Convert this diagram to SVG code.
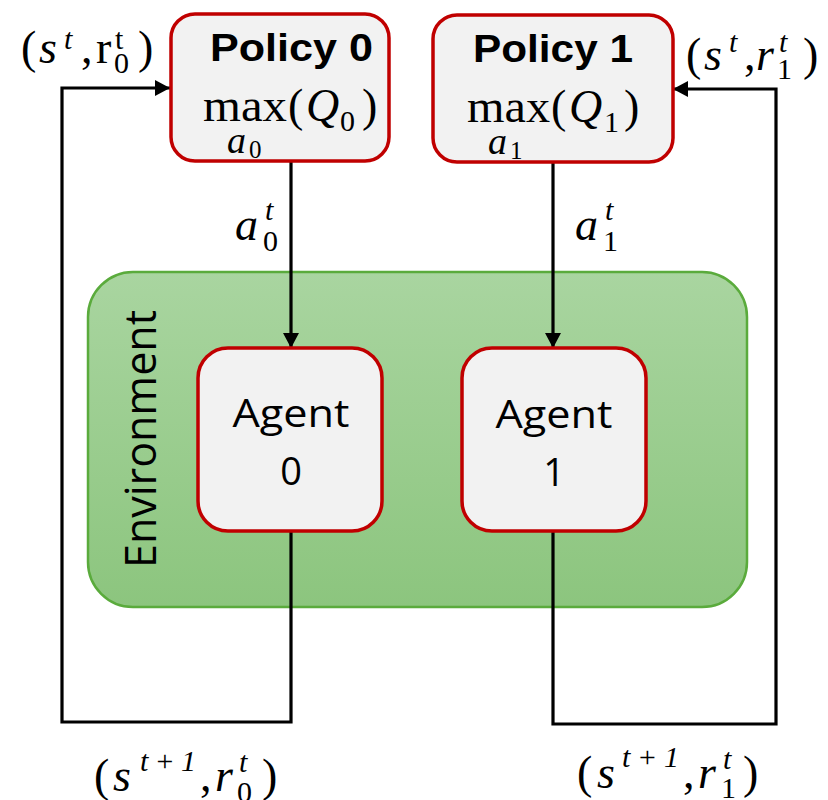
<svg xmlns="http://www.w3.org/2000/svg" width="828" height="800" viewBox="0 0 828 800">
  <defs>
    <linearGradient id="envFill" x1="0" y1="0" x2="0" y2="1">
      <stop offset="0" stop-color="#a9d5a0"/>
      <stop offset="1" stop-color="#8cc57e"/>
    </linearGradient>
    <marker id="arrow" viewBox="0 0 15 16" refX="15" refY="8" markerWidth="15" markerHeight="16" markerUnits="userSpaceOnUse" orient="auto">
      <path d="M0,0 L15,8 L0,16 Z" fill="#000"/>
    </marker>
    <style>
      .box { fill: #f2f2f2; stroke: #c00000; stroke-width: 3.5; }
      .env { fill: url(#envFill); stroke: #5aab3c; stroke-width: 2.5; }
      .wire { fill: none; stroke: #000; stroke-width: 3.2; }
      .title { font-family: "Liberation Sans", Arial, sans-serif; font-weight: bold; font-size: 39px; fill: #000; }
      .label { font-family: "Open Sans", "Liberation Sans", sans-serif; font-size: 38px; fill: #000; }
      .envlabel { font-family: "Open Sans", "Liberation Sans", sans-serif; font-size: 43px; fill: #000; }
      .m { font-family: "Liberation Serif", "Times New Roman", serif; font-size: 46px; fill: #000; }
      .mi { font-family: "Liberation Serif", "Times New Roman", serif; font-style: italic; font-size: 46px; fill: #000; }
      .s { font-family: "Liberation Serif", "Times New Roman", serif; font-size: 30px; fill: #000; }
      .si { font-family: "Liberation Serif", "Times New Roman", serif; font-style: italic; font-size: 30px; fill: #000; }
      .lim { font-family: "Liberation Serif", "Times New Roman", serif; font-style: italic; font-size: 38px; fill: #000; }
      .lims { font-family: "Liberation Serif", "Times New Roman", serif; font-size: 25px; fill: #000; }
    </style>
  </defs>

  <!-- environment container -->
  <g id="environment">
    <rect class="env" x="88" y="272" width="659" height="335" rx="45"/>
    <text class="envlabel" text-anchor="middle" textLength="258" lengthAdjust="spacingAndGlyphs" transform="translate(156,439) rotate(-90)">Environment</text>
  </g>

  <!-- connectors -->
  <g id="connectors">
    <path class="wire" d="M291,161 V348" marker-end="url(#arrow)"/>
    <path class="wire" d="M553,163 V348" marker-end="url(#arrow)"/>
    <path class="wire" d="M291,531 V722 H62 V88 H170" marker-end="url(#arrow)"/>
    <path class="wire" d="M553,531 V724 H776 V89 H673" marker-end="url(#arrow)"/>
  </g>

  <!-- policy nodes -->
  <g id="policy0">
    <rect class="box" x="171" y="14" width="218" height="147" rx="24"/>
    <text class="title" x="210" y="61" textLength="163" lengthAdjust="spacingAndGlyphs">Policy 0</text>
    <text class="m" x="203" y="121" textLength="84" lengthAdjust="spacingAndGlyphs">max</text>
    <text class="m" x="288" y="121">(</text>
    <text class="mi" x="306" y="121">Q</text>
    <text class="s" x="340" y="131">0</text>
    <text class="m" x="362" y="121">)</text>
    <text class="lim" x="227" y="153">a</text>
    <text class="lims" x="249" y="158">0</text>
  </g>

  <g id="policy1">
    <rect class="box" x="433" y="15" width="240" height="147" rx="24"/>
    <text class="title" x="473" y="62" textLength="160" lengthAdjust="spacingAndGlyphs">Policy 1</text>
    <text class="m" x="467" y="122" textLength="83" lengthAdjust="spacingAndGlyphs">max</text>
    <text class="m" x="551" y="122">(</text>
    <text class="mi" x="569" y="122">Q</text>
    <text class="s" x="604" y="132">1</text>
    <text class="m" x="624" y="122">)</text>
    <text class="lim" x="488" y="154">a</text>
    <text class="lims" x="510" y="159">1</text>
  </g>

  <!-- agent nodes -->
  <g id="agent0">
    <rect class="box" x="198" y="348" width="184" height="183" rx="30"/>
    <text class="label" x="291" y="427" text-anchor="middle" textLength="117" lengthAdjust="spacingAndGlyphs">Agent</text>
    <text class="label" x="291" y="485" text-anchor="middle">0</text>
  </g>

  <g id="agent1">
    <rect class="box" x="462" y="348" width="184" height="183" rx="30"/>
    <text class="label" x="554" y="428" text-anchor="middle" textLength="117" lengthAdjust="spacingAndGlyphs">Agent</text>
    <text class="label" x="554" y="486" text-anchor="middle">1</text>
  </g>

  <!-- action labels -->
  <g id="action-labels">
    <text class="mi" x="235" y="240">a</text>
    <text class="si" x="265" y="220">t</text>
    <text class="s" x="263" y="251">0</text>
    <text class="mi" x="575" y="240">a</text>
    <text class="si" x="605" y="220">t</text>
    <text class="s" x="603" y="251">1</text>
  </g>

  <!-- observation / reward labels -->
  <g id="obs-labels">
    <!-- (s^t, r_0^t) -->
    <text class="m" x="21" y="63">(</text>
    <text class="mi" x="39" y="63">s</text>
    <text class="si" x="64" y="49">t</text>
    <text class="m" x="81" y="63">,</text>
    <text class="m" x="96" y="63">r</text>
    <text class="s" x="115" y="49">t</text>
    <text class="s" x="114" y="73">0</text>
    <text class="m" x="138" y="63">)</text>

    <!-- (s^t, r_1^t) -->
    <text class="m" x="686" y="70">(</text>
    <text class="mi" x="704" y="70">s</text>
    <text class="si" x="729" y="52">t</text>
    <text class="m" x="744" y="70">,</text>
    <text class="mi" x="756" y="70">r</text>
    <text class="si" x="779" y="52">t</text>
    <text class="s" x="777" y="79">1</text>
    <text class="m" x="803" y="70">)</text>

    <!-- (s^{t+1}, r_0^t) -->
    <text class="m" x="94" y="791">(</text>
    <text class="mi" x="113" y="791">s</text>
    <text class="si" x="140" y="771" textLength="56" lengthAdjust="spacing">t<tspan class="s">+1</tspan></text>
    <text class="m" x="200" y="791">,</text>
    <text class="mi" x="215" y="791">r</text>
    <text class="si" x="239" y="772">t</text>
    <text class="s" x="237" y="802">0</text>
    <text class="m" x="262" y="791">)</text>

    <!-- (s^{t+1}, r_1^t) -->
    <text class="m" x="577" y="788">(</text>
    <text class="mi" x="597" y="788">s</text>
    <text class="si" x="622" y="767" textLength="57" lengthAdjust="spacing">t<tspan class="s">+1</tspan></text>
    <text class="m" x="683" y="788">,</text>
    <text class="mi" x="698" y="788">r</text>
    <text class="si" x="723" y="769">t</text>
    <text class="s" x="721" y="798">1</text>
    <text class="m" x="743" y="788">)</text>
  </g>
</svg>
